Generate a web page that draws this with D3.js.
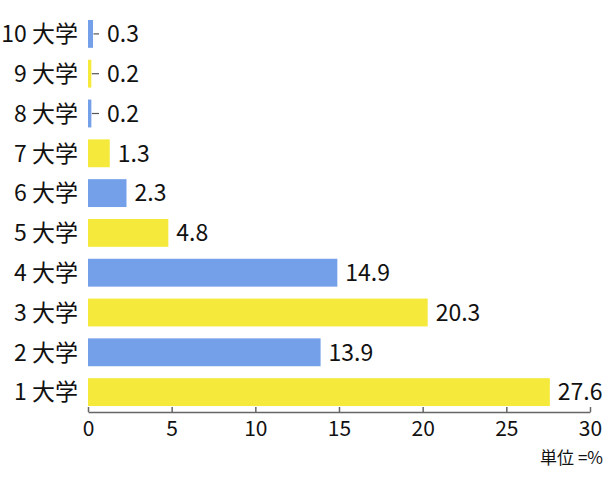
<!DOCTYPE html>
<html><head><meta charset="utf-8">
<script src="https://cdn.jsdelivr.net/npm/d3@7"></script>
<style>body{margin:0;background:#fff}text{font-family:"Noto Sans CJK JP","Noto Sans",sans-serif}</style>
</head><body><svg id="c" width="610" height="496"></svg>
<script>
const categories = ["10 大学","9 大学","8 大学","7 大学","6 大学","5 大学","4 大学","3 大学","2 大学","1 大学"];
const values = [0.3,0.2,0.2,1.3,2.3,4.8,14.9,20.3,13.9,27.6];
const barColors = ["#749fe9","#f5ea3b","#749fe9","#f5ea3b","#749fe9","#f5ea3b","#749fe9","#f5ea3b","#749fe9","#f5ea3b"];
const xTicks = [0,5,10,15,20,25,30];
const unitLabel = "単位 =%";

const svg = d3.select("#c");
const x = d3.scaleLinear().domain([0,30]).range([88,590]);
const y = d3.scaleBand().domain(categories).range([14,412]).paddingInner(0.3).paddingOuter(0.15);

const data = categories.map((c,i)=>({c, v:values[i], col:barColors[i]}));

svg.selectAll("rect.bar").data(data).enter().append("rect")
  .attr("x", x(0)).attr("y", d=>y(d.c)).attr("width", d=>x(d.v)-x(0)).attr("height", y.bandwidth())
  .attr("fill", d=>d.col);

const minEnd = x(0)+11;
svg.selectAll("line.lead").data(data.filter(d=>x(d.v)<minEnd)).enter().append("line")
  .attr("x1", d=>x(d.v)+0.5).attr("x2", minEnd).attr("y1", d=>y(d.c)+y.bandwidth()/2).attr("y2", d=>y(d.c)+y.bandwidth()/2)
  .attr("stroke","#555").attr("stroke-width",1.2);

svg.selectAll("text.val").data(data).enter().append("text")
  .attr("x", d=>Math.max(x(d.v), minEnd)+8).attr("y", d=>y(d.c)+y.bandwidth()/2)
  .attr("dy","0.36em").attr("font-size",23).attr("fill","#111").text(d=>d.v.toFixed(1));

svg.selectAll("text.cat").data(data).enter().append("text")
  .attr("x", 78).attr("y", d=>y(d.c)+y.bandwidth()/2).attr("dy","0.36em")
  .attr("text-anchor","end").attr("font-size",23).attr("fill","#111").text(d=>d.c);

const axisY = 412;
const ax = svg.append("g").attr("transform",`translate(0,${axisY})`)
  .call(d3.axisBottom(x).tickValues(xTicks).tickSizeInner(-5).tickSizeOuter(0).tickPadding(9));
ax.select(".domain").attr("stroke","#666").attr("stroke-width",1.5);
ax.selectAll(".tick line").attr("stroke","#666").attr("stroke-width",1.5);
ax.selectAll(".tick text").attr("font-size",21).attr("fill","#111").attr("font-family","'Noto Sans CJK JP','Noto Sans',sans-serif");

svg.append("text").attr("x",603).attr("y",464).attr("text-anchor","end").attr("font-size",17).attr("fill","#111").text(unitLabel);
</script></body></html>
